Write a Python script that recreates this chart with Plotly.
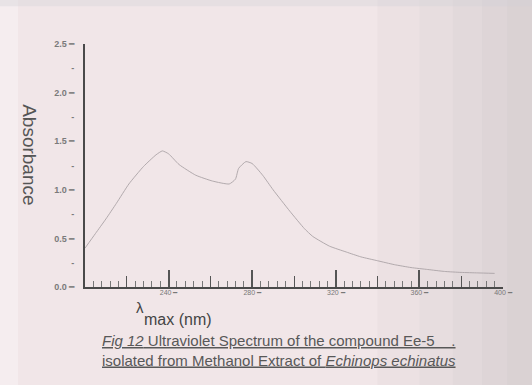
import plotly.graph_objects as go

# ---- data ----
wavelength_nm = [200, 205, 210, 215, 221, 228, 234, 237, 240, 245, 253, 261, 269,
                 272, 273.5, 277, 280, 285, 290, 298, 305, 309, 317, 325, 332,
                 340, 348, 356, 364, 372, 380, 388, 396]
absorbance = [0.40, 0.55, 0.70, 0.86, 1.06, 1.24, 1.36, 1.40, 1.37, 1.26, 1.15,
              1.09, 1.06, 1.11, 1.22, 1.29, 1.27, 1.15, 1.00, 0.78, 0.60, 0.52,
              0.42, 0.36, 0.31, 0.27, 0.23, 0.20, 0.18, 0.16, 0.15, 0.145, 0.14]

x_major_ticks = [240, 280, 320, 360]
x_mid_ticks = [220, 260, 300, 340, 380]
x_label_vals = [240, 280, 320, 360, 400]
x_label_text = ["240 \u2501", "280 \u2501", "320 \u2501", "360 \u2501", "400 \u2501"]
y_tick_vals = [0, 0.25, 0.5, 0.75, 1.0, 1.25, 1.5, 1.75, 2.0, 2.25, 2.5]
y_tick_text = ["<b>0.0</b> \u2501", "<b>-</b>", "<b>0.5</b> \u2501", "<b>-</b>",
               "<b>1.0</b> \u2501", "<b>-</b>", "<b>1.5</b> \u2501", "<b>-</b>",
               "<b>2.0</b> \u2501", "<b>-</b>", "<b>2.5</b> \u2501"]
caption_lines = [
    "<u><i>Fig 12</i> Ultraviolet Spectrum of the compound Ee-5 \u00a0\u00a0\u00a0.</u>",
    "<u>isolated from Methanol Extract of <i>Echinops echinatus</i></u>",
]

FONT = "Liberation Sans, Arial, sans-serif"
AXIS_COL = "#4a4a4a"

fig = go.Figure()
fig.add_trace(go.Scatter(
    x=wavelength_nm, y=absorbance, mode="lines",
    line=dict(color="#aaa3a6", width=0.9, shape="spline", smoothing=0.5),
    showlegend=False, hoverinfo="skip",
))
# invisible helper traces to activate the overlay axes
fig.add_trace(go.Scatter(x=[200, 400], y=[0, 0], xaxis="x2", mode="none",
                         showlegend=False, hoverinfo="skip"))
fig.add_trace(go.Scatter(x=[200, 400], y=[0, 0], xaxis="x3", mode="none",
                         showlegend=False, hoverinfo="skip"))

right_shade = [
    dict(type="rect", xref="paper", yref="paper", x0=x0, x1=1.08, y0=-0.42, y1=1.2,
         fillcolor="#a9a6b0", opacity=0.07, line_width=0, layer="below")
    for x0 in (0.70, 0.80, 0.88, 0.95, 1.01)
]

fig.update_layout(
    width=532, height=385,
    margin=dict(l=85, r=29, t=44, b=98),
    paper_bgcolor="#f1e6e8",
    plot_bgcolor="rgba(0,0,0,0)",
    font=dict(family=FONT, color="#666"),
    xaxis=dict(
        range=[200, 400], showgrid=False, zeroline=False,
        showline=True, linecolor=AXIS_COL, linewidth=2,
        tickmode="array", tickvals=x_major_ticks, ticks="inside",
        ticklen=17, tickwidth=1.6, tickcolor="#555",
        showticklabels=False,
        minor=dict(tickmode="linear", tick0=200, dtick=4, ticks="inside",
                   ticklen=6, tickwidth=1, tickcolor="#777"),
    ),
    xaxis2=dict(
        range=[200, 400], overlaying="x", side="bottom", showgrid=False,
        zeroline=False, showline=False, tickmode="array", tickvals=x_mid_ticks,
        ticks="inside", ticklen=11, tickwidth=1.4, tickcolor="#555",
        showticklabels=False,
    ),
    xaxis3=dict(
        range=[200, 400], overlaying="x", side="bottom", showgrid=False,
        zeroline=False, showline=False, tickmode="array", tickvals=x_label_vals,
        ticktext=x_label_text, ticks="", tickfont=dict(size=7, color="#777"),
    ),
    yaxis=dict(
        range=[0, 2.5], showgrid=False, zeroline=False,
        showline=True, linecolor=AXIS_COL, linewidth=2,
        tickmode="array", tickvals=y_tick_vals, ticktext=y_tick_text,
        ticks="outside", ticklen=7, tickcolor="rgba(0,0,0,0)",
        tickfont=dict(size=9, color="#7a7a7a"),
    ),
    shapes=right_shade + [
        dict(type="rect", xref="paper", yref="paper", x0=-0.25, x1=-0.16, y0=-0.42, y1=1.2,
             fillcolor="#ffffff", opacity=0.3, line_width=0, layer="below"),
        dict(type="rect", xref="paper", yref="paper", x0=-0.25, x1=1.08, y0=1.155, y1=1.2,
             fillcolor="#d0d0d6", opacity=0.35, line_width=0, layer="below"),
    ],
    annotations=[
        dict(text="Absorbance", textangle=90, xref="paper", yref="paper",
             x=-0.133, y=0.545, xanchor="center", yanchor="middle", showarrow=False,
             font=dict(size=19, color="#555", family=FONT)),
        dict(text="max (nm)", xref="paper", yref="paper", x=0.223, y=-0.135,
             xanchor="center", yanchor="middle",
             showarrow=False, font=dict(size=16, color="#444", family=FONT)),
        dict(text="\u03bb", xref="paper", yref="paper", x=0.132, y=-0.085,
             xanchor="center", yanchor="middle",
             showarrow=False, font=dict(size=15, color="#444", family=FONT)),
        dict(text="<br>".join(caption_lines), align="left",
             xref="paper", yref="paper", x=0.035, y=-0.262, xanchor="left", yanchor="middle",
             showarrow=False, font=dict(size=15, color="#585858", family=FONT)),
    ],
)

fig.write_html("out.html", post_script="document.body.style.margin='0';",
               config={"displayModeBar": False})
